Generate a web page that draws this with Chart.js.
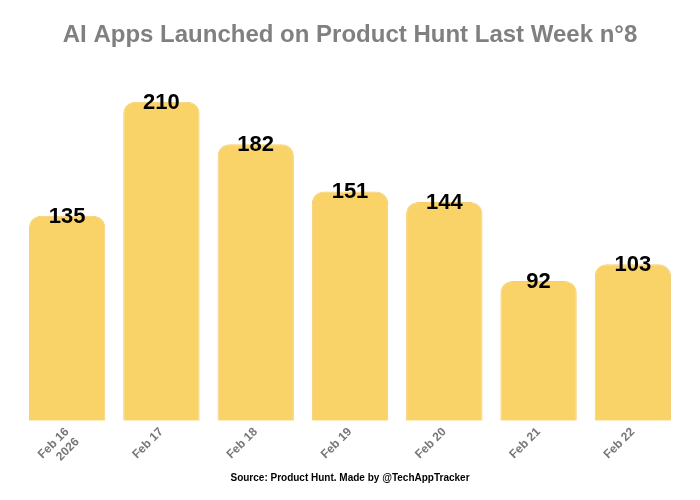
<!DOCTYPE html>
<html>
<head>
<meta charset="utf-8">
<script src="https://cdn.jsdelivr.net/npm/chart.js@4"></script>
<style>
  html, body { margin: 0; padding: 0; background: #fff; }
  #wrap { width: 700px; height: 500px; position: relative; }
</style>
</head>
<body>
<div id="wrap"><canvas id="launchChart"></canvas></div>
<script>
// Data
const days = [['Feb 16', '2026'], 'Feb 17', 'Feb 18', 'Feb 19', 'Feb 20', 'Feb 21', 'Feb 22'];
const launches = [135, 210, 182, 151, 144, 92, 103];

const FONT = '"Liberation Sans", Arial, sans-serif';

// draw the count centred on the top edge of each bar
const barLabels = {
    id: 'barLabels',
    afterDatasetsDraw(chart) {
        const ctx = chart.ctx;
        const meta = chart.getDatasetMeta(0);
        ctx.save();
        ctx.font = 'bold 22px ' + FONT;
        ctx.fillStyle = '#000';
        ctx.textAlign = 'center';
        ctx.textBaseline = 'middle';
        meta.data.forEach((bar, i) => {
            ctx.fillText(launches[i], bar.x, bar.y + 1);
        });
        ctx.restore();
    }
};

new Chart(document.getElementById('launchChart'), {
    type: 'bar',
    data: {
        labels: days,
        datasets: [{
            data: launches,
            backgroundColor: '#F9D367',
            borderColor: '#F5CD72',
            borderWidth: 1,
            borderRadius: { topLeft: 12, topRight: 12 },
            borderSkipped: 'bottom',
            barPercentage: 0.9,
            categoryPercentage: 0.9
        }]
    },
    options: {
        responsive: true,
        maintainAspectRatio: false,
        animation: false,
        layout: { padding: { left: 20, right: 20, top: 0, bottom: 0 } },
        scales: {
            y: {
                display: false,
                beginAtZero: true,
                max: 210
            },
            x: {
                grid: { display: false },
                border: { display: false },
                ticks: {
                    color: '#777',
                    font: { family: FONT, size: 12, weight: 'bold' },
                    maxRotation: 45,
                    minRotation: 45,
                    padding: -4
                }
            }
        },
        plugins: {
            legend: { display: false },
            tooltip: { enabled: false },
            title: {
                display: true,
                text: 'AI Apps Launched on Product Hunt Last Week n°8',
                color: '#808080',
                font: { family: FONT, size: 24, weight: 'bold' },
                padding: { top: 21, bottom: 52 }
            },
            subtitle: {
                display: true,
                position: 'bottom',
                text: 'Source: Product Hunt. Made by @TechAppTracker',
                color: '#000',
                font: { family: FONT, size: 10, weight: 'bold' },
                padding: { top: 4, bottom: 16 }
            }
        }
    },
    plugins: [barLabels]
});
</script>
</body>
</html>
